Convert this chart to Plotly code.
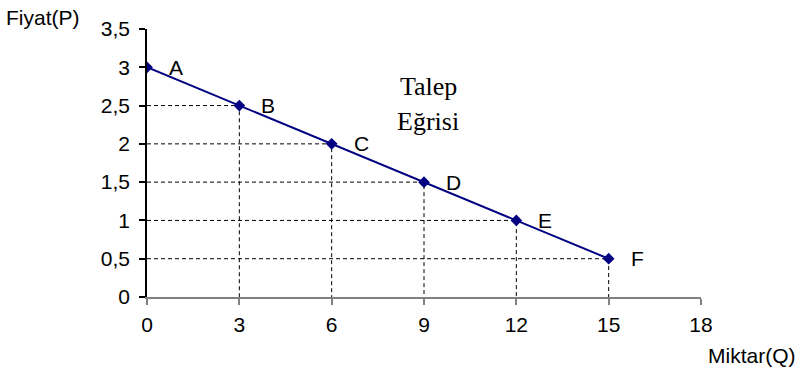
import plotly.graph_objects as go

# Demand schedule: quantity vs price
quantity = [0, 3, 6, 9, 12, 15]
price = [3, 2.5, 2, 1.5, 1, 0.5]
point_labels = ["A", "B", "C", "D", "E", "F"]

x_ticks = [0, 3, 6, 9, 12, 15, 18]
y_ticks = [0, 0.5, 1, 1.5, 2, 2.5, 3, 3.5]

SANS = "Liberation Sans, Arial"
SERIF = "Liberation Serif, Times New Roman"

fig = go.Figure()

# Dashed guide lines from each point to both axes
for q, p in zip(quantity, price):
    if q == 0:
        continue
    fig.add_trace(go.Scatter(
        x=[0, q, q], y=[p, p, 0], mode="lines",
        line=dict(color="black", width=1, dash="4px,3px"),
        hoverinfo="skip", showlegend=False,
    ))

# Demand curve
fig.add_trace(go.Scatter(
    x=quantity, y=price, mode="lines+markers",
    line=dict(color="#000080", width=2),
    marker=dict(symbol="diamond", size=9, color="#000080"),
    showlegend=False,
))

# Point letters
for q, p, lab in zip(quantity, price, point_labels):
    fig.add_annotation(
        x=q, y=p, text=lab, showarrow=False, xanchor="left", yanchor="middle",
        xshift=20, font=dict(family=SANS, size=21, color="black"),
    )

# Curve caption
PX_W, PX_H = 554, 268
for txt, ypix in (("Talep", 87), ("Eğrisi", 122)):
    fig.add_annotation(
        xref="paper", yref="paper", x=(428 - 147) / PX_W, y=(297 - ypix) / PX_H,
        text=txt, showarrow=False, xanchor="center", yanchor="middle",
        font=dict(family=SERIF, size=26, color="black"),
    )

# Axis titles
fig.add_annotation(
    xref="paper", yref="paper", x=-143 / PX_W, y=(297 - 17) / PX_H,
    text="Fiyat(P)", showarrow=False, xanchor="left", yanchor="middle",
    font=dict(family=SANS, size=21, color="black"),
)
fig.add_annotation(
    xref="paper", yref="paper", x=(798 - 147) / PX_W, y=(297 - 355) / PX_H,
    text="Miktar(Q)", showarrow=False, xanchor="right", yanchor="middle",
    font=dict(family=SANS, size=21, color="black"),
)

fig.update_layout(
    width=800, height=375,
    margin=dict(l=147, r=99, t=29, b=78),
    plot_bgcolor="white", paper_bgcolor="white",
    separators=",.",
    font=dict(family=SANS, size=21, color="black"),
)
fig.update_xaxes(
    range=[0, 18], tickvals=x_ticks, showgrid=False, zeroline=False,
    showline=True, linecolor="#808080", linewidth=1.5,
    ticks="outside", ticklen=6, tickcolor="#808080", tickwidth=1.5,
    tickfont=dict(family=SANS, size=21), automargin=False,
    ticklabelstandoff=2,
)
fig.update_yaxes(
    range=[0, 3.5], tickvals=y_ticks, showgrid=False, zeroline=False,
    showline=True, linecolor="black", linewidth=1.5,
    ticks="outside", ticklen=6, tickcolor="black", tickwidth=1.5,
    tickfont=dict(family=SANS, size=21), automargin=False,
    ticklabelstandoff=5,
)

fig.write_html("out.html")
